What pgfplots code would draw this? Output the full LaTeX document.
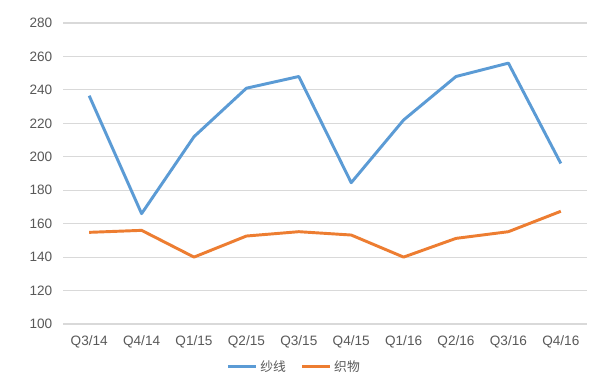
\documentclass[border=0pt]{standalone}
\usepackage{pgfplots}
\pgfplotsset{compat=1.18}
\usepackage{fontspec}
\setmainfont{Liberation Sans}
\newfontfamily\cjk{Noto Sans CJK SC}
\definecolor{blueL}{HTML}{5B9BD5}
\definecolor{orangeL}{HTML}{ED7D31}
\definecolor{gridc}{HTML}{D9D9D9}
\definecolor{txt}{HTML}{595959}
\begin{document}
\begin{tikzpicture}[x=1pt,y=1pt]
\path[use as bounding box, fill=white] (0,0) rectangle (450,291);
\begin{axis}[
  at={(47.25pt,48pt)}, anchor=south west,
  scale only axis, width=393pt, height=225.75pt,
  xmin=-0.5, xmax=9.5, ymin=100, ymax=280,
  xtick={0,...,9},
  xticklabels={Q3/14,Q4/14,Q1/15,Q2/15,Q3/15,Q4/15,Q1/16,Q2/16,Q3/16,Q4/16},
  ytick={100,120,...,280},
  ymajorgrids, grid style={gridc, line width=0.9pt},
  axis line style={draw=none},
  major tick length=0pt,
  tick label style={font=\fontsize{10.2}{12}\selectfont, text=txt},
  /pgf/number format/assume math mode=true,
  yticklabel style={xshift=-4.5pt},
  xticklabel style={yshift=-5pt},
  legend columns=2,
  legend style={at={(0.442,-0.142)}, anchor=center, draw=none, fill=none,
    font=\cjk\fontsize{9.6}{11}\selectfont, text=txt,
    /tikz/every even column/.append style={column sep=9pt}},
  legend image code/.code={\draw[#1, line width=2.2pt] (0pt,0pt) -- (21pt,0pt);},
]
\addplot[blueL, line width=2.2pt, line join=round] coordinates {
(0,236.5) (1,166) (2,212) (3,241) (4,248) (5,184.5) (6,222) (7,248) (8,256) (9,196)};
\addlegendentry{纱线}
\addplot[orangeL, line width=2.2pt, line join=round] coordinates {
(0,154.8) (1,156) (2,140) (3,152.6) (4,155.2) (5,153.2) (6,140) (7,151.2) (8,155.2) (9,167.4)};
\addlegendentry{织物}
\end{axis}
\end{tikzpicture}
\end{document}
